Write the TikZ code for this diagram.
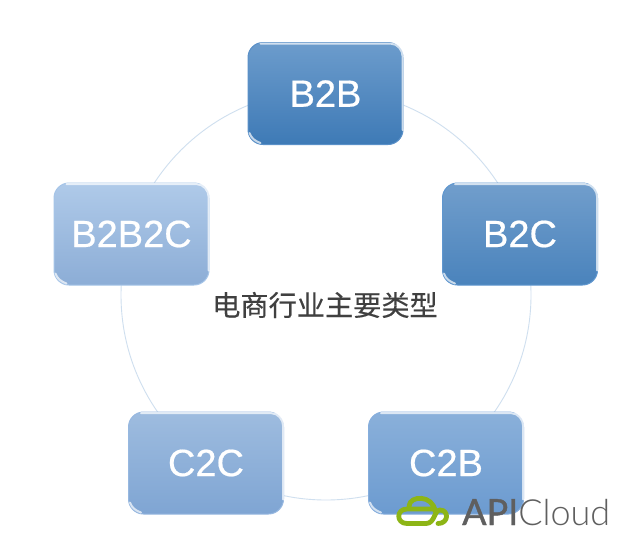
\documentclass[tikz,border=0pt]{standalone}
\usepackage{fontspec}
\setmainfont{Liberation Sans}
\newfontfamily\boxfont[FakeBold=0.5]{Liberation Sans}
\newfontfamily\cjk[FakeBold=0.25]{Noto Sans CJK SC}
\newfontfamily\logofont[FakeBold=1.2]{Lato}
\newfontfamily\logolight{Lato Light}
\usetikzlibrary{calc}
\definecolor{ringcol}{HTML}{CFDFEF}
\definecolor{titlecol}{HTML}{404040}
\definecolor{logogreen}{HTML}{8DB516}
\definecolor{logogray}{HTML}{5F5F5F}
\definecolor{btobT}{HTML}{6C9CCC}\definecolor{btobB}{HTML}{3E7AB6}\definecolor{btobE}{HTML}{5A90C8}
\definecolor{btocT}{HTML}{719ECC}\definecolor{btocB}{HTML}{4A83BC}\definecolor{btocE}{HTML}{6097CF}
\definecolor{bbcT}{HTML}{AFCAE9}\definecolor{bbcB}{HTML}{8CADD6}\definecolor{bbcE}{HTML}{A6C5E8}
\definecolor{ctocT}{HTML}{9EBCDF}\definecolor{ctocB}{HTML}{7FA5D3}\definecolor{ctocE}{HTML}{97B8E0}
\definecolor{ctobT}{HTML}{8AB0DA}\definecolor{ctobB}{HTML}{6C9BD0}\definecolor{ctobE}{HTML}{86AEDD}
\tikzset{
  x=1pt,y=1pt,
  ringline/.style={draw=ringcol,line width=0.9pt},
  boxnode/.style={rounded corners=15pt,minimum width=155pt,minimum height=102pt,inner sep=0pt,
    text=white,font=\boxfont\fontsize{38}{38}\selectfont,line width=1pt},
  gloss/.style={line width=2pt,line cap=round,draw=white,draw opacity=0.7},
  title/.style={text=titlecol,font=\cjk\fontsize{28.2}{29}\selectfont,inner sep=0pt},
}
\newcommand{\glossbox}[4]{%
  \node[boxnode,draw=#1E,top color=#1T,bottom color=#1B] (#1) at (#2,#3) {#4};
  \draw[gloss] ($(#1.north west)+(13,-1.6)$) -- ($(#1.north east)+(-13,-1.6)$)
     to[out=0,in=90] ($(#1.north east)+(-0.8,-15)$) -- ($(#1.south east)+(-0.8,15)$);
  \draw[gloss] ($(#1.south west)+(2,12)$) to[out=-70,in=160] ($(#1.south west)+(13,2)$);
}
\begin{document}
\begin{tikzpicture}
\useasboundingbox (0,0) rectangle (636,-552);
\fill[white] (0,0) rectangle (636,-552);
\node[circle,ringline,minimum size=410pt,inner sep=0pt] (ring) at (326,-295) {};
\glossbox{btob}{325.5}{-93.5}{B2B}
\glossbox{btoc}{520}{-234}{B2C}
\glossbox{bbc}{131.5}{-234}{B2B2C}
\glossbox{ctoc}{206}{-463}{C2C}
\glossbox{ctob}{446}{-463}{C2B}
\node[title] (label) at (325,-305) {电商行业主要类型};
\draw[logogreen,line width=4.8pt,line cap=round,line join=round]
  (409,-506) .. controls (410,-495) and (433,-495) .. (435,-511)
  (432,-509) -- (407,-509) .. controls (396,-509) and (396,-523.5) .. (407,-523.5)
  -- (426,-523.5) .. controls (435,-523.5) and (434,-510) .. (440,-510)
  .. controls (449,-510) and (449,-523.5) .. (438,-523.5);
\node[anchor=base west,inner sep=0pt,text=logogray,font=\fontsize{36}{36}\selectfont] (logo) at (462,-525) {\logofont API\logolight Cloud};
\end{tikzpicture}
\end{document}
